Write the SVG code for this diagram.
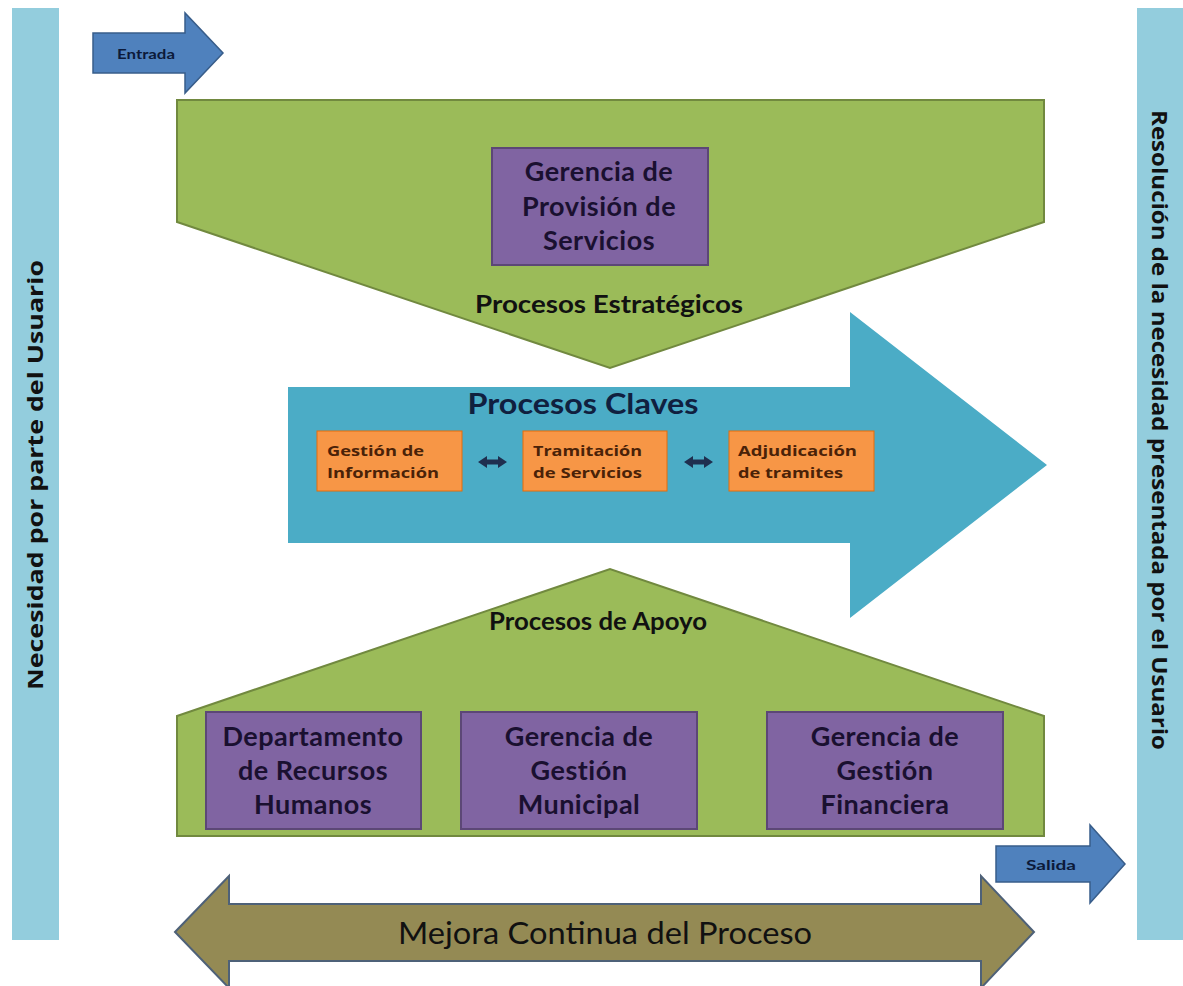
<svg xmlns="http://www.w3.org/2000/svg" width="1183" height="986" viewBox="0 0 1183 986">
<style>
.side{fill:#93CDDD}
.sidetxt{font-family:"Open Sans","DejaVu Sans",sans-serif;font-weight:bold;font-size:21px;fill:#111}
.green{fill:#9BBB59;stroke:#71893F;stroke-width:2}
.purple{fill:#8064A2;stroke:#5C4776;stroke-width:2}
.ptxt{font-family:Lato,"Liberation Sans",sans-serif;font-weight:bold;font-size:27px;letter-spacing:0.5px;fill:#1a1030;text-anchor:middle}
.gtxt{font-family:Lato,"Liberation Sans",sans-serif;font-weight:bold;font-size:24px;fill:#111;text-anchor:middle}
.orange{fill:#F79646;stroke:#E46C0A;stroke-width:1}
.otxt{font-family:"Open Sans","DejaVu Sans",sans-serif;font-weight:bold;font-size:14px;fill:#4a2208}
.blue{fill:#4F81BD;stroke:#385D8A;stroke-width:1.5}
.btxt{font-family:Lato,"Liberation Sans",sans-serif;font-weight:bold;font-size:14px;fill:#0c1a3a;text-anchor:middle}
.dbl{fill:#1F2F4F}
</style>
<rect width="1183" height="986" fill="#fff"/>

<g id="side-left">
<rect class="side" x="12" y="8" width="47" height="932"/>
<text class="sidetxt" transform="translate(43,475) rotate(-90)" text-anchor="middle" textLength="430" lengthAdjust="spacingAndGlyphs">Necesidad por parte del Usuario</text>
</g>
<g id="side-right">
<rect class="side" x="1137" y="8" width="46" height="932"/>
<text class="sidetxt" transform="translate(1152,430) rotate(90)" text-anchor="middle" textLength="640" lengthAdjust="spacingAndGlyphs">Resolución de la necesidad presentada por el Usuario</text>
</g>

<g id="entrada">
<path class="blue" d="M93,33 H185 V13 L223,53 L185,93 V73 H93 Z"/>
<text class="btxt" x="146" y="59" textLength="58" lengthAdjust="spacingAndGlyphs">Entrada</text>
</g>

<g id="estrategicos">
<path class="green" d="M177,100 H1044 V222 L610,368 L177,222 Z"/>
<text class="gtxt" x="609" y="313" textLength="268" lengthAdjust="spacingAndGlyphs">Procesos Estratégicos</text>
</g>
<g id="provision">
<rect class="purple" x="492" y="148" width="216" height="117"/>
<text class="ptxt" x="599" y="181">Gerencia de</text>
<text class="ptxt" x="599" y="216">Provisión de</text>
<text class="ptxt" x="599" y="250">Servicios</text>
</g>

<g id="claves">
<path d="M288,387 H850 V312 L1047,465 L850,618 V543 H288 Z" fill="#4BACC6"/>
<text x="583" y="414" font-family="Lato,'Liberation Sans',sans-serif" font-weight="bold" font-size="28" fill="#10203f" text-anchor="middle" textLength="231" lengthAdjust="spacingAndGlyphs">Procesos Claves</text>
</g>
<g id="gestion-info">
<rect class="orange" x="317" y="431" width="145" height="60"/>
<text class="otxt" x="327" y="456" textLength="97" lengthAdjust="spacingAndGlyphs">Gestión de</text>
<text class="otxt" x="327" y="478" textLength="112" lengthAdjust="spacingAndGlyphs">Información</text>
</g>
<g id="tramitacion">
<rect class="orange" x="523" y="431" width="144" height="60"/>
<text class="otxt" x="533" y="456" textLength="109" lengthAdjust="spacingAndGlyphs">Tramitación</text>
<text class="otxt" x="533" y="478" textLength="109" lengthAdjust="spacingAndGlyphs">de Servicios</text>
</g>
<g id="adjudicacion">
<rect class="orange" x="729" y="431" width="145" height="60"/>
<text class="otxt" x="738" y="456" textLength="119" lengthAdjust="spacingAndGlyphs">Adjudicación</text>
<text class="otxt" x="738" y="478" textLength="105" lengthAdjust="spacingAndGlyphs">de tramites</text>
</g>

<g id="apoyo">
<path class="green" d="M177,716 L610,569 L1044,716 V836 H177 Z"/>
<text class="gtxt" x="598" y="630" textLength="218" lengthAdjust="spacingAndGlyphs">Procesos de Apoyo</text>
</g>
<g id="rrhh">
<rect class="purple" x="206" y="712" width="215" height="117"/>
<text class="ptxt" x="313" y="746">Departamento</text>
<text class="ptxt" x="313" y="780">de Recursos</text>
<text class="ptxt" x="313" y="814">Humanos</text>
</g>
<g id="municipal">
<rect class="purple" x="461" y="712" width="236" height="117"/>
<text class="ptxt" x="579" y="746">Gerencia de</text>
<text class="ptxt" x="579" y="780">Gestión</text>
<text class="ptxt" x="579" y="814">Municipal</text>
</g>
<g id="financiera">
<rect class="purple" x="767" y="712" width="236" height="117"/>
<text class="ptxt" x="885" y="746">Gerencia de</text>
<text class="ptxt" x="885" y="780">Gestión</text>
<text class="ptxt" x="885" y="814">Financiera</text>
</g>

<g id="salida">
<path class="blue" d="M996,846 H1090 V825 L1125,864 L1090,903 V882 H996 Z"/>
<text class="btxt" x="1051" y="870" textLength="50" lengthAdjust="spacingAndGlyphs">Salida</text>
</g>

<g id="mejora">
<path d="M175,932 L229,876 V904 H981 V876 L1034,932 L981,988 V961 H229 V988 Z" fill="#948A54" stroke="#4E6178" stroke-width="2"/>
<text x="605" y="944" font-family="Lato,'Liberation Sans',sans-serif" font-size="31" fill="#111" text-anchor="middle" textLength="414" lengthAdjust="spacingAndGlyphs">Mejora Continua del Proceso</text>
</g>

<g id="connectors">
<path class="dbl" d="M478,462 L487,456 V459.5 H498 V456 L507,462 L498,468 V464.5 H487 V468 Z"/>
<path class="dbl" d="M684,462 L693,456 V459.5 H704 V456 L713,462 L704,468 V464.5 H693 V468 Z"/>
</g>
</svg>
